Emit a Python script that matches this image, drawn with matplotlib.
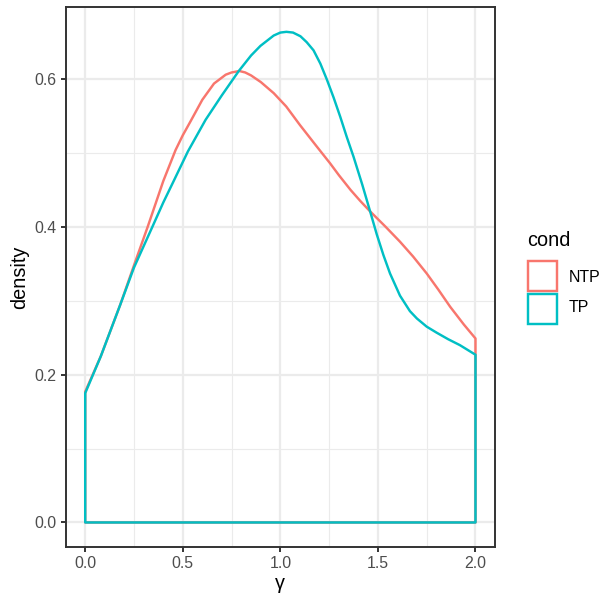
import matplotlib
matplotlib.use("Agg")
import matplotlib.pyplot as plt
from matplotlib.patches import Rectangle

plt.rcParams['font.family'] = ['Liberation Sans', 'DejaVu Sans']

# Data (density estimates on gamma in [0, 2])
ntp_x = [0.0, 0.08, 0.18, 0.25, 0.32, 0.40, 0.463, 0.50, 0.54, 0.60, 0.66, 0.72, 0.75,
         0.79, 0.82, 0.85, 0.90, 0.966, 1.03, 1.10, 1.18, 1.255, 1.30, 1.36, 1.41, 1.46,
         1.54, 1.613, 1.68, 1.75, 1.81, 1.87, 1.94, 2.0]
ntp_y = [0.177, 0.225, 0.295, 0.348, 0.400, 0.462, 0.504, 0.524, 0.543, 0.572, 0.594, 0.606, 0.609,
         0.611, 0.609, 0.605, 0.596, 0.581, 0.563, 0.538, 0.511, 0.486, 0.470, 0.450, 0.435, 0.421,
         0.400, 0.380, 0.360, 0.337, 0.315, 0.292, 0.268, 0.249]

tp_x = [0.0, 0.08, 0.18, 0.25, 0.344, 0.40, 0.455, 0.526, 0.617, 0.70, 0.75, 0.787,
        0.85, 0.898, 0.966, 1.0, 1.031, 1.065, 1.103, 1.135, 1.17, 1.205, 1.239, 1.273,
        1.307, 1.34, 1.375, 1.42, 1.46, 1.494, 1.528, 1.562, 1.613, 1.664, 1.70, 1.75,
        1.80, 1.86, 1.92, 2.0]
tp_y = [0.175, 0.225, 0.295, 0.345, 0.400, 0.433, 0.463, 0.502, 0.545, 0.578, 0.597, 0.611,
        0.632, 0.645, 0.659, 0.663, 0.664, 0.663, 0.658, 0.650, 0.639, 0.621, 0.599, 0.575,
        0.549, 0.522, 0.495, 0.457, 0.421, 0.390, 0.362, 0.337, 0.307, 0.286, 0.276, 0.265,
        0.257, 0.248, 0.240, 0.227]

conds = ["NTP", "TP"]
colors = ["#F8766D", "#00BFC4"]
series = [(ntp_x, ntp_y), (tp_x, tp_y)]

x_ticks = [0.0, 0.5, 1.0, 1.5, 2.0]
y_ticks = [0.0, 0.2, 0.4, 0.6]

W, H = 605, 593
fig = plt.figure(figsize=(W / 100, H / 100), dpi=100)
ax = fig.add_axes([65.7 / W, 1 - 547 / H, (495 - 65.7) / W, (547 - 7.3) / H])

lw = 1.75
for (xs, ys), c in zip(series, colors):
    px = list(xs) + [max(xs), min(xs)]
    py = list(ys) + [0.0, 0.0]
    ax.fill(px, py, facecolor='none', edgecolor=c, linewidth=lw, joinstyle='round', zorder=3)

ymax = max(max(ntp_y), max(tp_y))
ax.set_xlim(-0.1, 2.1)
ax.set_ylim(-0.05 * ymax, ymax * 1.05)

ax.set_xticks(x_ticks)
ax.set_xticklabels([f"{v:.1f}" for v in x_ticks])
ax.set_yticks(y_ticks)
ax.set_yticklabels([f"{v:.1f}" for v in y_ticks])
ax.set_xticks([0.25, 0.75, 1.25, 1.75], minor=True)
ax.set_yticks([0.1, 0.3, 0.5], minor=True)

ax.grid(which='major', color='#EBEBEB', linewidth=1.6, zorder=0)
ax.grid(which='minor', color='#EBEBEB', linewidth=0.8, zorder=0)
ax.set_axisbelow(True)

for s in ax.spines.values():
    s.set_color('#333333')
    s.set_linewidth(1.4)

ax.tick_params(which='major', length=3.6, width=1.4, color='#333333',
               labelsize=11.4, labelcolor='#4D4D4D', pad=2.9)
ax.tick_params(which='minor', length=0)

ax.set_xlabel("γ", fontsize=14.3, color='black', labelpad=2)
ax.set_ylabel("density", fontsize=14.3, color='black', labelpad=4)

# Legend
fig.text(526.7 / W, 1 - 240.7 / H, "cond", fontsize=14.3, ha='left', va='center')
key_tops = [261, 294]
label_y = [278, 308]
for c, lab, kt, ly in zip(colors, conds, key_tops, label_y):
    r = Rectangle((527.5 / W, 1 - (kt + 29.5) / H), 29.5 / W, 29.5 / H,
                  transform=fig.transFigure, facecolor='none', edgecolor=c,
                  linewidth=lw)
    fig.patches.append(r)
    fig.text(569 / W, 1 - ly / H, lab, fontsize=11.4, ha='left', va='center')

fig.savefig("out.png", dpi=100)
